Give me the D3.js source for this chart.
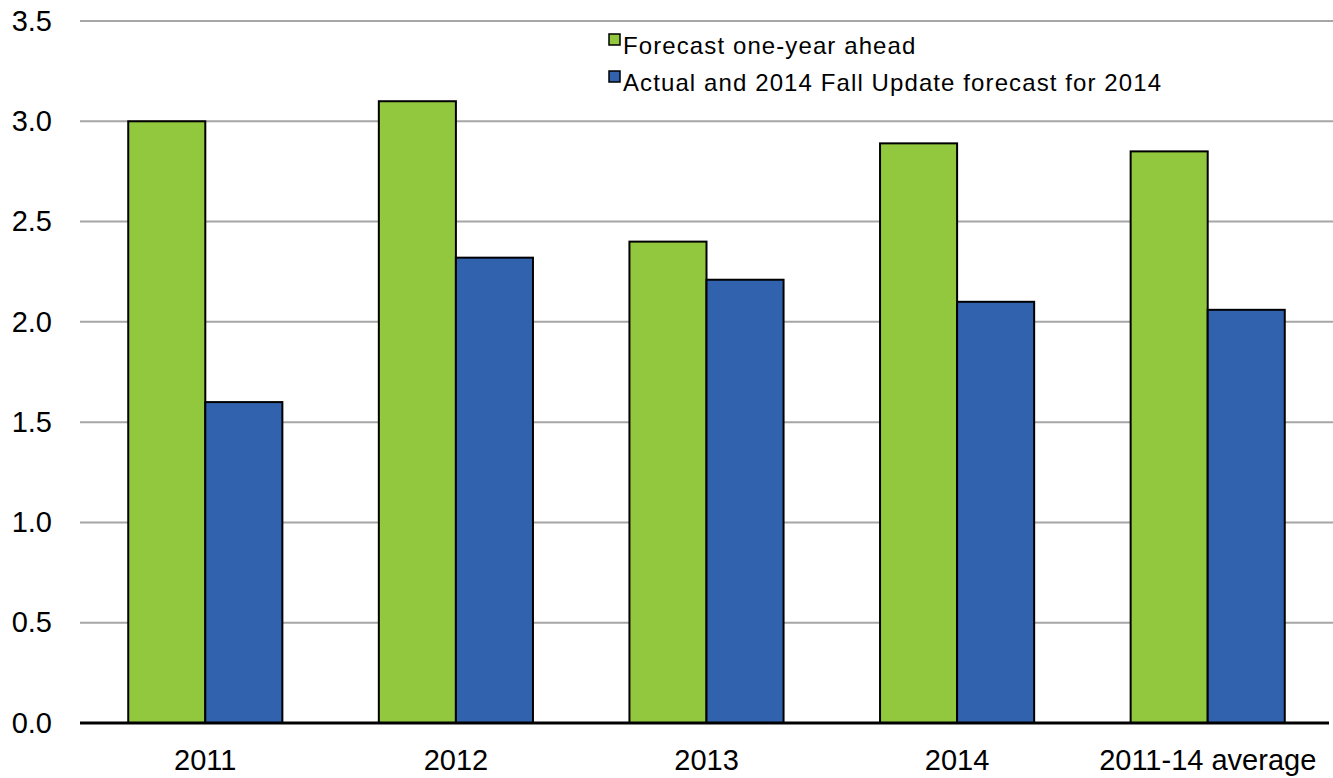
<!DOCTYPE html>
<html>
<head>
<meta charset="utf-8">
<script src="https://cdn.jsdelivr.net/npm/d3@7"></script>
<style>
  body { margin: 0; background: #fff; }
  text { font-family: "Liberation Sans", Arial, sans-serif; }
</style>
</head>
<body>
<div id="chart"></div>
<script>
// data
const categories = ["2011", "2012", "2013", "2014", "2011-14 average"];
const forecastAhead = [3.0, 3.1, 2.4, 2.89, 2.85];
const actual = [1.6, 2.32, 2.21, 2.1, 2.06];
const seriesNames = ["Forecast one-year ahead", "Actual and 2014 Fall Update forecast for 2014"];
const yTicks = [0, 0.5, 1, 1.5, 2, 2.5, 3, 3.5];

var svgWidth = 1333;
var svgHeight = 778;
var margin = { top: 21, right: 0, bottom: 55, left: 80 };
var width = svgWidth - margin.left - margin.right;
var height = svgHeight - margin.top - margin.bottom;

var svg = d3.select("#chart").append("svg")
  .attr("width", svgWidth)
  .attr("height", svgHeight);

var g = svg.append("g")
  .attr("transform", `translate(${margin.left}, ${margin.top})`);

var x0 = d3.scaleBand()
  .domain(categories)
  .range([0, width])
  .paddingInner(0.385)
  .paddingOuter(0.1925);

var x1 = d3.scaleBand()
  .domain([0, 1])
  .range([0, x0.bandwidth()]);

var y = d3.scaleLinear()
  .domain([0, 3.5])
  .range([height, 0]);

var colors = ["#92c83e", "#3162ad"];

// gridlines
g.selectAll(".grid")
  .data(yTicks.filter(d => d > 0))
  .enter().append("line")
  .attr("x1", 0)
  .attr("x2", width)
  .attr("y1", d => y(d))
  .attr("y2", d => y(d))
  .attr("stroke", "#a6a6a6")
  .attr("stroke-width", 2);

// y tick labels
var yAxis = d3.axisLeft(y).tickValues(yTicks).tickFormat(d3.format(".1f")).tickSize(0).tickPadding(28);
g.append("g").call(yAxis)
  .attr("font-size", null)
  .call(s => s.select(".domain").remove())
  .selectAll("text")
  .style("font-size", "29px")
  .attr("fill", "#000")
  .style("font-family", "'Liberation Sans', Arial, sans-serif");

// bars
var groups = g.selectAll(".cat")
  .data(categories)
  .enter().append("g")
  .attr("transform", d => `translate(${x0(d)},0)`);

groups.selectAll("rect")
  .data((d, i) => [forecastAhead[i], actual[i]])
  .enter().append("rect")
  .attr("x", (d, j) => x1(j))
  .attr("y", d => y(d))
  .attr("width", x1.bandwidth())
  .attr("height", d => y(0) - y(d))
  .attr("fill", (d, j) => colors[j])
  .attr("stroke", "#000")
  .attr("stroke-width", 2);

// baseline
g.append("line")
  .attr("x1", 0)
  .attr("x2", width - 4)
  .attr("y1", y(0))
  .attr("y2", y(0))
  .attr("stroke", "#000")
  .attr("stroke-width", 3);

// x labels
var xAxis = d3.axisBottom(x0).tickSize(0).tickPadding(26);
g.append("g")
  .attr("transform", `translate(0, ${height})`)
  .call(xAxis)
  .attr("font-size", null)
  .call(s => s.select(".domain").remove())
  .selectAll("text")
  .style("font-size", "29px")
  .attr("fill", "#000")
  .style("font-family", "'Liberation Sans', Arial, sans-serif");

// legend
var legend = svg.append("g").attr("transform", "translate(609, 34)");
seriesNames.forEach((name, i) => {
  var row = legend.append("g").attr("transform", `translate(0, ${i * 37})`);
  row.append("rect")
    .attr("x", 0).attr("y", 0)
    .attr("width", 11).attr("height", 11)
    .attr("fill", colors[i])
    .attr("stroke", "#000")
    .attr("stroke-width", 1.5);
  row.append("text")
    .attr("x", 14)
    .attr("y", 20)
    .style("font-size", "24px")
    .style("letter-spacing", "1.1px")
    .attr("fill", "#000")
    .text(name);
});
</script>
</body>
</html>
